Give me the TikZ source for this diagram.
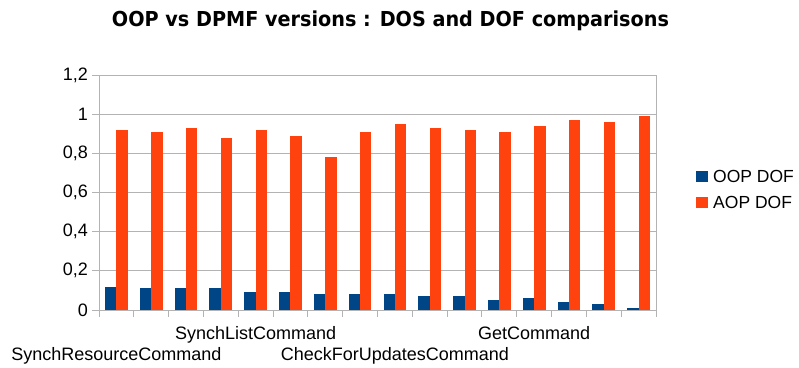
\documentclass[tikz,border=0pt]{standalone}
\usepackage{fontspec}
\setmainfont{Liberation Sans}
\newfontfamily\titlefont{DejaVu Sans}
\definecolor{oopc}{HTML}{004586}
\definecolor{aopc}{HTML}{FF420E}
\definecolor{gridc}{HTML}{B3B3B3}
\tikzset{
  gridline/.style={draw=gridc, line width=1pt},
  axislabel/.style={inner sep=0pt, font=\fontsize{18}{20}\selectfont},
  legendtext/.style={inner sep=0pt, anchor=base west, font=\fontsize{17.5}{20}\selectfont},
  oopbar/.style={fill=oopc, draw=none},
  aopbar/.style={fill=aopc, draw=none}
}
\begin{document}
\begin{tikzpicture}[x=1pt,y=-1pt]
\useasboundingbox[fill=white] (0,0) rectangle (799,367);
% title
\node[inner sep=0pt, anchor=base] (title) at (390.5,26.7)
  {\resizebox{557pt}{\height}{\titlefont\bfseries\fontsize{20.6}{24}\selectfont OOP vs DPMF versions : DOS and DOF comparisons}};
% grid lines and y labels
\foreach \i/\lab in {0/0,1/{0,2},2/{0,4},3/{0,6},4/{0,8},5/1,6/{1,2}}{
  \draw[gridline] (92,{310-\i*39.1667}) -- (656,{310-\i*39.1667});
  \node[axislabel, anchor=east] (ylab\i) at (88,{310-\i*39.1667}) {\lab};
}
% axes
\draw[gridline] (99,75) -- (99,316.5);
\draw[gridline] (656,75) -- (656,316.5);
\foreach \k in {1,...,15}{
  \draw[gridline] ({99+\k*34.8125},310) -- ({99+\k*34.8125},316.5);
}
% bars
\foreach \v/\w [count=\k from 0] in {0.12/0.92,0.11/0.91,0.11/0.93,0.11/0.88,0.09/0.92,0.09/0.89,0.08/0.78,0.08/0.91,0.08/0.95,0.07/0.93,0.07/0.92,0.05/0.91,0.06/0.94,0.04/0.97,0.03/0.96,0.01/0.99}{
  \fill[oopbar] ({99+\k*34.8125+6},310) rectangle ({99+\k*34.8125+17.4},{310-\v*195.833});
  \fill[aopbar] ({99+\k*34.8125+17.4},310) rectangle ({99+\k*34.8125+28.8},{310-\w*195.833});
}
% category labels
\node[axislabel, anchor=base] (c1) at (116.4,360.6) {SynchResourceCommand};
\node[axislabel, anchor=base] (c5) at (255.6,339) {SynchListCommand};
\node[axislabel, anchor=base] (c9) at (394.8,360.6) {CheckForUpdatesCommand};
\node[axislabel, anchor=base] (c13) at (534.1,339) {GetCommand};
% legend
\fill[oopbar] (696,171) rectangle (708,182);
\fill[aopbar] (696,197) rectangle (708,208);
\node[legendtext] (l1) at (713,182) {OOP DOF};
\node[legendtext] (l2) at (713,208) {AOP DOF};
\end{tikzpicture}
\end{document}
